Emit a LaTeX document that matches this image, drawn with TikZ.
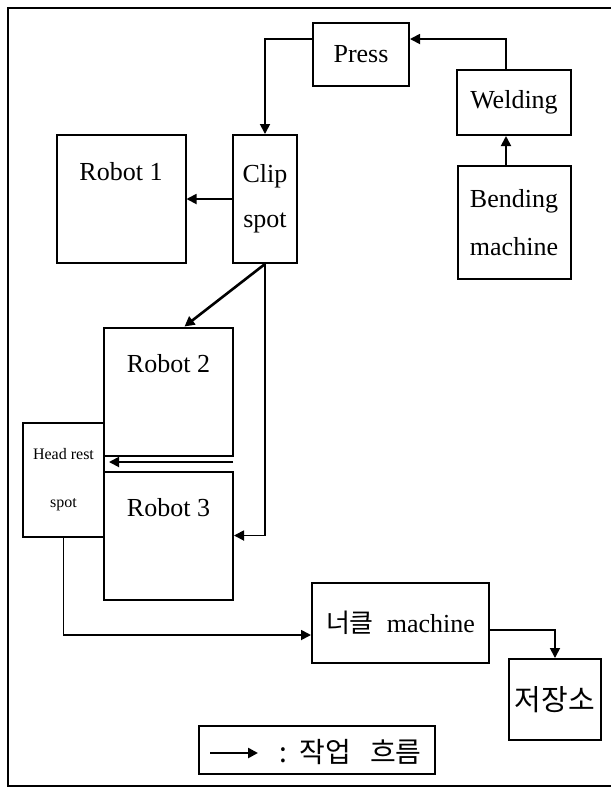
\documentclass[tikz,border=0pt]{standalone}
\usepackage{fontspec}
\setmainfont{Liberation Serif}
\newfontfamily\kr{Noto Sans CJK KR}
\usetikzlibrary{arrows.meta}

\begin{document}
\begin{tikzpicture}[x=0.5pt, y=-0.5pt,
  box/.style={draw, line width=1pt, inner sep=0pt, align=center, font=\fontsize{13}{22.5}\selectfont},
  robot/.style={box, minimum width=64.5pt, minimum height=64pt,
    label={[font=\fontsize{13}{15}\selectfont, anchor=base, yshift=-23pt]north:#1}},
  arrow/.style={-{Triangle[length=5pt, width=5pt]}, line width=0.9pt}]
\useasboundingbox (0,0) rectangle (611,789);
% frame
\draw[line width=0.9pt] (615,8) -- (8,8) -- (8,786) -- (615,786);
% machines
\node[box, minimum width=48pt, minimum height=31.5pt] (press) at (361,54.5) {Press};
\node[box, minimum width=57pt, minimum height=32.5pt] (welding) at (514,102.5) {Welding};
\node[box, minimum width=56.5pt, minimum height=56.5pt, font=\fontsize{13}{24}\selectfont] (bending) at (514,222.5) {Bending\\machine};
\node[box, minimum width=32pt, minimum height=64pt] (clip) at (265,199) {Clip\\spot};
% robots
\node[robot=Robot 1] (robot1) at (121,199) {};
\node[robot=Robot 2] (robot2) at (168.5,391.5) {};
\node[robot=Robot 3] (robot3) at (168.5,535.5) {};
\node[box, minimum width=40.5pt, minimum height=57pt, font=\fontsize{8}{24}\selectfont] (headrest) at (63.5,480) {Head rest\\spot};
\node[box, minimum width=88.5pt, minimum height=40pt, font=\fontsize{13}{15}\selectfont] (knuckle) at (400.5,623) {{\kr 너클}\ \ machine};
\node[box, minimum width=46pt, minimum height=40.5pt, font=\kr\fontsize{14.5}{15}\selectfont] (store) at (555,699.5) {저장소};
% flow
\draw[arrow] ([xshift=-4pt]bending.north) -- ([xshift=-4pt]welding.south);
\draw[arrow] ([xshift=-4pt]welding.north) |- ([yshift=7.75pt]press.east);
\draw[arrow] ([yshift=7.75pt]press.west) -| (clip.north);
\draw[arrow] (clip.west) -- (robot1.east);
\draw[arrow, line width=1.3pt] (clip.south) -- ([xshift=8pt]robot2.north);
\draw[arrow] (clip.south) |- (robot3.east);
\coordinate (r23) at (233,462);
\draw[arrow] (r23) -- ([xshift=2pt]r23 -| headrest.east);
\draw[arrow] (headrest.south) |- ([yshift=-6pt]knuckle.west);
\draw[arrow] ([yshift=-3.5pt]knuckle.east) -| (store.north);
% legend
\node[box, minimum width=118pt, minimum height=24pt] (legend) at (317,750) {};
\coordinate (lgA) at (210,753);
\coordinate (lgB) at (258,753);
\draw[arrow, line width=1.3pt] (lgA) -- (lgB);
\node[font=\kr\fontsize{14}{15}\selectfont, anchor=west, inner sep=0pt] (lgtext) at (279,752) {:\ \ 작업\ \ \ 흐름};
\end{tikzpicture}
\end{document}
